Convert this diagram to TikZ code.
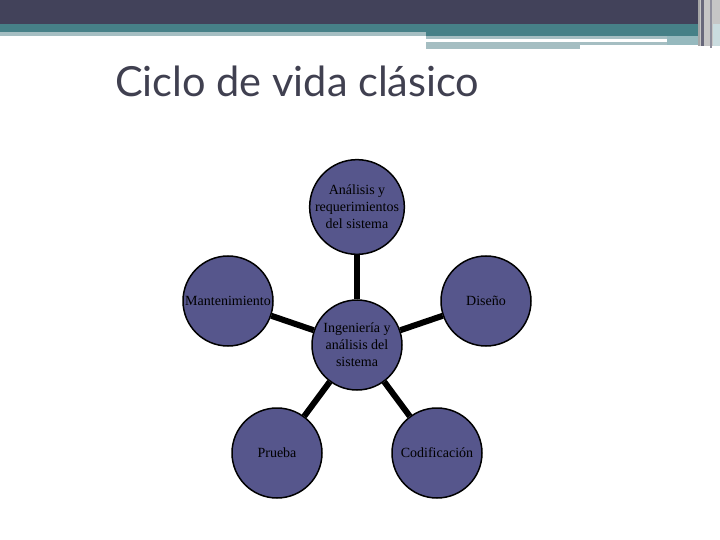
\documentclass[tikz,border=0pt]{standalone}
\usepackage{fontspec}
\usetikzlibrary{backgrounds}
\setmainfont{Liberation Serif}
\newfontfamily\titlefont{Lato}
\newfontfamily\circfont{Liberation Serif}
\definecolor{topdark}{RGB}{66,66,90}
\definecolor{teal}{RGB}{70,128,135}
\definecolor{lteal}{RGB}{165,190,194}
\definecolor{mteal}{RGB}{150,185,190}
\definecolor{circfill}{RGB}{86,86,140}
\definecolor{titlecol}{RGB}{64,64,80}
\tikzset{
  phase/.style={circle, draw=black, line width=1.5pt, fill=circfill, minimum size=90pt, inner sep=0pt, align=center, font=\circfont\fontsize{14}{17}\selectfont, text=black},
  link/.style={line width=6pt, black}
}
\begin{document}
\begin{tikzpicture}[x=1pt,y=-1pt]
\useasboundingbox (0,0) rectangle (720,540);
% header bands
\fill[topdark] (0,0) rectangle (720,24);
\fill[teal] (0,24) rectangle (720,32);
\fill[lteal] (0,32) rectangle (426,36);
\fill[teal] (426,32) rectangle (720,36);
\fill[lteal] (426,36) rectangle (667,39);
\fill[lteal] (426,42) rectangle (667,45);
\fill[lteal] (426,45) rectangle (580,49);
\fill[mteal] (667,36) rectangle (698,45);
\fill[gray!45] (698,0) rectangle (720,46);
\fill[gray!70] (698,0) rectangle (700,46);
\fill[topdark!80] (701,0) rectangle (704,46);
\fill[topdark!60] (710,0) rectangle (712,48);
\fill[mteal!50] (713,24) rectangle (720,46);
% title
\node[anchor=base west, inner sep=0pt, text=titlecol, font=\titlefont\fontsize{41.5}{48}\selectfont] (title) at (115,97) {Ciclo de vida clásico};
% circles
\node[phase] (ing) at (357,345) {Ingeniería y\\análisis del\\sistema};
\node[phase] (ana) at (357,207) {Análisis y\\requerimientos\\del sistema};
\node[phase] (dis) at (486,301) {Diseño};
\node[phase] (cod) at (437,453) {Codificación};
\node[phase] (pru) at (277,453) {Prueba};
\node[phase] (man) at (228,301) {Mantenimiento};
\begin{scope}[on background layer]
\draw[link] (ing) -- (ana);
\draw[link] (ing) -- (dis);
\draw[link] (ing) -- (cod);
\draw[link] (ing) -- (pru);
\draw[link] (ing) -- (man);
\end{scope}
\end{tikzpicture}
\end{document}
